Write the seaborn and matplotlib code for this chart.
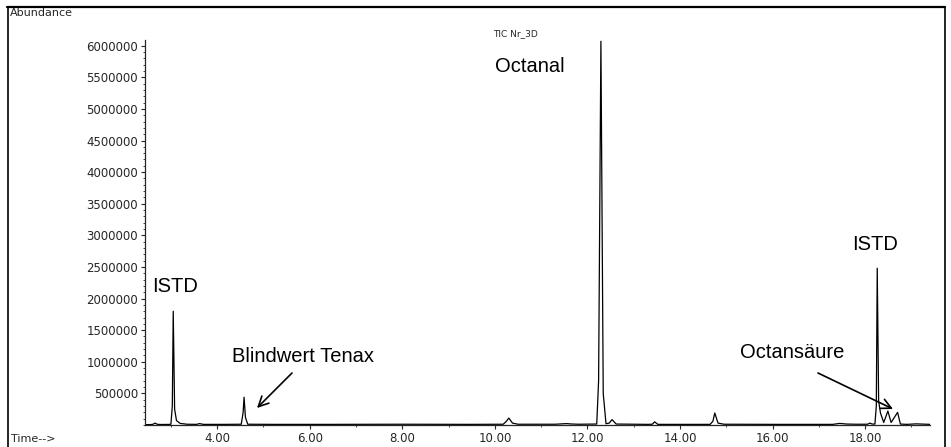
import matplotlib
matplotlib.use("Agg")
import matplotlib.pyplot as plt
import seaborn as sns
import pandas as pd
from matplotlib.lines import Line2D
from matplotlib.ticker import MultipleLocator

# chromatogram (time in min, abundance)
time = [2.44, 2.60, 2.66, 2.70, 2.76, 2.95, 3.00, 3.03, 3.05, 3.08, 3.12, 3.20, 3.35,
        3.55, 3.62, 3.70, 4.20, 4.52, 4.56, 4.58, 4.61, 4.66, 5.20, 6.50, 8.00, 9.50,
        10.18, 10.25, 10.30, 10.38, 10.50, 11.30, 11.55, 11.65, 11.80, 12.20, 12.24,
        12.29, 12.34, 12.40, 12.47, 12.53, 12.62, 13.30, 13.40, 13.45, 13.52, 14.00,
        14.65, 14.71, 14.75, 14.82, 14.95, 16.00, 17.30, 17.45, 17.60, 17.80, 18.05,
        18.10, 18.15, 18.21, 18.24, 18.26, 18.29, 18.33, 18.40, 18.49, 18.56, 18.70,
        18.76, 18.90, 19.10, 19.40]
abundance = [5000, 8000, 30000, 12000, 8000, 9000, 12000, 300000, 1800000, 250000,
             70000, 25000, 12000, 10000, 22000, 10000, 10000, 12000, 200000, 440000,
             120000, 12000, 10000, 10000, 12000, 10000, 12000, 60000, 110000, 30000,
             12000, 12000, 22000, 16000, 12000, 15000, 700000, 6070000, 500000, 20000,
             30000, 85000, 15000, 10000, 12000, 50000, 10000, 10000, 10000, 60000,
             190000, 30000, 12000, 10000, 10000, 25000, 15000, 12000, 12000, 30000,
             15000, 15000, 300000, 2480000, 380000, 190000, 40000, 220000, 40000,
             200000, 15000, 10000, 18000, 10000]

y_ticks = [500000, 1000000, 1500000, 2000000, 2500000, 3000000,
           3500000, 4000000, 4500000, 5000000, 5500000, 6000000]
x_ticks = [4, 6, 8, 10, 12, 14, 16, 18]

df = pd.DataFrame({"time": time, "abundance": abundance})

sns.set_style("ticks")
plt.rcParams["font.family"] = ["Liberation Sans", "DejaVu Sans"]

fig = plt.figure(figsize=(9.51, 4.47), dpi=100)
W, H = 951, 447
ax = fig.add_axes([145 / W, (H - 425) / H, (930 - 145) / W, (425 - 40) / H])

sns.lineplot(data=df, x="time", y="abundance", ax=ax, color="black",
             linewidth=0.9, sort=False)

ax.set_xlim(2.44, 19.4)
ax.set_ylim(0, 6090000)
ax.set_xticks(x_ticks)
ax.set_xticklabels([f"{t:.2f}" for t in x_ticks])
ax.set_yticks(y_ticks)
ax.set_yticklabels([str(v) for v in y_ticks])
ax.xaxis.set_minor_locator(MultipleLocator(1))
ax.yaxis.set_minor_locator(MultipleLocator(100000))
ax.set_xlabel("")
ax.set_ylabel("")
sns.despine(ax=ax)
for s in ["left", "bottom"]:
    ax.spines[s].set_linewidth(0.9)
ax.tick_params(which="major", length=3, width=0.8, pad=2,
               labelsize=8.5, labelfontfamily="DejaVu Sans")
ax.tick_params(which="minor", length=1.5, width=0.6)


def fx(px):
    return px / W


def fy(py):
    return 1 - py / H


lab = dict(fontsize=14.5, color="black", va="center", ha="left")
fig.text(fx(152), fy(287), "ISTD", **lab)
fig.text(fx(232), fy(357), "Blindwert Tenax", **lab)
fig.text(fx(495), fy(67), "Octanal", **lab)
fig.text(fx(740), fy(353), "Octansäure", **lab)
fig.text(fx(852), fy(244), "ISTD", **lab)

fig.text(fx(493), fy(34), "TIC Nr_3D", fontsize=6.5, family="DejaVu Sans",
         va="center", ha="left")
fig.text(fx(10), fy(13), "Abundance", fontsize=8, family="DejaVu Sans",
         va="center", ha="left")
fig.text(fx(11), fy(439), "Time-->", fontsize=8, family="DejaVu Sans",
         va="center", ha="left")

arrow = dict(arrowstyle="->", color="black", lw=1.2, mutation_scale=18,
             shrinkA=0, shrinkB=0)
ax.annotate("", xy=(fx(257), fy(408)), xycoords="figure fraction",
            xytext=(fx(292), fy(373)), textcoords="figure fraction",
            arrowprops=arrow)
ax.annotate("", xy=(fx(893), fy(409)), xycoords="figure fraction",
            xytext=(fx(818), fy(373)), textcoords="figure fraction",
            arrowprops=arrow)

# outer frame of the original report
fig.add_artist(Line2D([fx(7), fx(945)], [fy(7), fy(7)], color="black", lw=1.6))
fig.add_artist(Line2D([fx(8), fx(8)], [fy(7), fy(460)], color="black", lw=1.2))
fig.add_artist(Line2D([fx(945), fx(945)], [fy(7), fy(460)], color="black", lw=1.2))

fig.savefig("out.png", dpi=100)
